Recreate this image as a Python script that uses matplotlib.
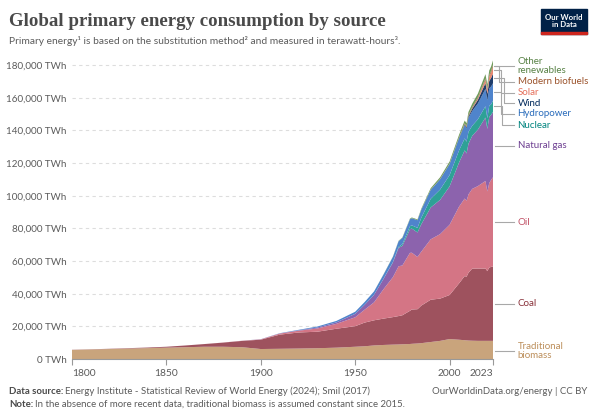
import numpy as np
import matplotlib
matplotlib.use("Agg")
from matplotlib import pyplot as plt
from matplotlib.patches import Rectangle

years = [1800, 1810, 1820, 1830, 1840, 1850, 1860, 1870, 1880, 1890,
         1900, 1910, 1920, 1930, 1940, 1950, 1955, 1960, 1965, 1970,
         1973, 1975, 1979, 1980, 1983, 1985, 1990, 1995, 2000, 2005,
         2008, 2009, 2010, 2012, 2015, 2019, 2020, 2021, 2022, 2023]

biomass = [5556, 5833, 6111, 6389, 6667, 6944, 7222, 7500, 7500, 7222,
           6111, 6250, 6400, 6600, 6944, 7500, 7800, 8300, 8600, 8800,
           8900, 9000, 9200, 9300, 9500, 9700, 10400, 11100, 12200, 11800,
           11500, 11400, 11300, 11200, 11111, 11111, 11111, 11111, 11111, 11111]
coal = [97, 128, 153, 264, 356, 569, 1061, 1642, 2542, 3856,
        5728, 8656, 9833, 10125, 11586, 12603, 14500, 15400, 16140, 16860,
        17400, 17800, 20300, 21000, 21000, 23000, 25900, 25900, 27000, 34500,
        39300, 39000, 41500, 44200, 44300, 44300, 42700, 44900, 45300, 45600]
oil = [0, 0, 0, 0, 0, 0, 0, 6, 33, 85,
       181, 636, 1097, 1972, 2994, 5444, 7900, 11000, 18000, 24500,
       30500, 30500, 35500, 34800, 32000, 33000, 37000, 39500, 43000, 47000,
       47500, 46500, 48000, 48800, 50500, 53600, 48800, 51700, 53300, 54600]
gas = [0, 0, 0, 0, 0, 0, 0, 0, 0, 30,
       64, 142, 233, 603, 875, 2092, 3000, 4600, 6300, 9000,
       11300, 12000, 14500, 14800, 15000, 16800, 19500, 21000, 23500, 27000,
       29500, 29000, 31000, 32500, 34600, 38900, 38300, 40500, 39800, 40100]
nuclear = [0, 0, 0, 0, 0, 0, 0, 0, 0, 0,
           0, 0, 0, 0, 0, 0, 0, 20, 70, 230,
           580, 1050, 1800, 1980, 2800, 4000, 5300, 6300, 6900, 7400,
           7300, 7200, 7300, 6200, 6300, 6900, 6600, 6800, 6500, 6800]
hydro = [0, 0, 0, 0, 0, 0, 0, 0, 0, 0,
         50, 100, 300, 600, 900, 1300, 1700, 2100, 2600, 3200,
         3500, 3800, 4300, 4400, 4700, 4900, 5500, 6300, 6800, 7500,
         8100, 8100, 8600, 9000, 9700, 10600, 10900, 10700, 10900, 10700]
wind = [0, 0, 0, 0, 0, 0, 0, 0, 0, 0,
        0, 0, 0, 0, 0, 0, 0, 0, 0, 0,
        0, 0, 0, 0, 0, 5, 10, 20, 80, 270,
        560, 720, 900, 1400, 2200, 3600, 4000, 4600, 5200, 5900]
solar = [0, 0, 0, 0, 0, 0, 0, 0, 0, 0,
         0, 0, 0, 0, 0, 0, 0, 0, 0, 0,
         0, 0, 0, 0, 0, 0, 2, 3, 5, 10,
         30, 50, 90, 260, 660, 1800, 2100, 2600, 3200, 4000]
biofuels = [0, 0, 0, 0, 0, 0, 0, 0, 0, 0,
            0, 0, 0, 0, 0, 0, 0, 0, 0, 0,
            0, 0, 0, 0, 0, 0, 100, 120, 130, 260,
            570, 620, 690, 720, 880, 1070, 980, 1070, 1160, 1300]
other = [0, 0, 0, 0, 0, 0, 0, 0, 0, 0,
         0, 0, 0, 0, 0, 0, 0, 0, 150, 200,
         250, 300, 380, 400, 500, 600, 900, 1100, 1300, 1500,
         1700, 1800, 1900, 2100, 2300, 2600, 2650, 2700, 2750, 2800]

names = ["Traditional\nbiomass", "Coal", "Oil", "Natural gas", "Nuclear",
         "Hydropower", "Wind", "Solar", "Modern biofuels", "Other\nrenewables"]
fills = ["#C9A47C", "#9E525E", "#D47585", "#8C63AD", "#2EA196",
         "#4F84CC", "#1F3E6C", "#E8866E", "#A66A48", "#6F9A5A"]
text_colors = ["#BC8E5A", "#883039", "#C15065", "#6D3E91", "#00847E",
               "#286BBB", "#00295B", "#E56E5A", "#9A5129", "#578145"]
label_y = [4900, 33700, 83900, 130500, 143300, 150100, 156800, 163000,
           169700, 179200]

series = [biomass, coal, oil, gas, nuclear, hydro, wind, solar, biofuels, other]

plt.rcParams['font.family'] = ['Lato', 'DejaVu Sans']

fig = plt.figure(figsize=(5.96, 4.19), dpi=100)
ax = fig.add_axes([72 / 596, 60 / 419, 421 / 596, (419 - 60 - 48.8) / 419])

ax.stackplot(years, *series, colors=fills, linewidth=0)

ax.set_xlim(1800, 2023)
ax.set_ylim(0, 190000)
yt = np.arange(0, 200000, 20000)
ax.set_yticks(yt)
ax.set_yticklabels([f"{v:,} TWh" for v in yt], color="#5b5b5b", fontsize=7.1)
ax.yaxis.grid(True, linestyle=(0, (3, 3)), color="#dddddd", linewidth=0.8)
ax.set_axisbelow(True)
ax.tick_params(axis="y", length=0, pad=4)

xt = [1800, 1850, 1900, 1950, 2000, 2023]
ax.set_xticks(xt)
ax.set_xticklabels([str(v) for v in xt], color="#5b5b5b", fontsize=7.4)
labs = ax.get_xticklabels()
labs[0].set_horizontalalignment("left")
labs[-1].set_horizontalalignment("right")
ax.tick_params(axis="x", length=4, color="#999999", pad=3)

for s in ["top", "right", "left"]:
    ax.spines[s].set_visible(False)
ax.spines["bottom"].set_color("#999999")

# labels at right with connectors
cum = np.cumsum([s[-1] for s in series])
mids = cum - np.array([s[-1] for s in series]) / 2
bends = [2025, 2025, 2025, 2025, 2028, 2027.5, 2029, 2027, 2026, 2025]
for i, name in enumerate(names):
    ys, yl = mids[i], label_y[i]
    if abs(ys - yl) < 3000:
        ax.plot([2024, 2034], [yl, yl], color="#a8a8a8", lw=0.8, clip_on=False)
    else:
        bx = bends[i]
        ax.plot([2023.6, bx, bx, 2034], [ys, ys, yl, yl], color="#a8a8a8",
                lw=0.8, clip_on=False)
    ax.text(2036, yl, name, color=text_colors[i], fontsize=7.0, va="center",
            ha="left", linespacing=1.0, clip_on=False)

# title and subtitle
fig.text(9 / 596, 1 - 21 / 419, "Global primary energy consumption by source",
         fontsize=13.6, fontfamily="Liberation Serif", fontweight="bold",
         color="#4a4a4a", va="center", ha="left")
fig.text(9 / 596, 1 - 41 / 419,
         "Primary energy¹ is based on the substitution method² and measured in terawatt-hours³.",
         fontsize=7.4, color="#5b5b5b", va="center", ha="left")

# logo
fig.patches.append(Rectangle((541 / 596, 1 - 34 / 419), 46 / 596, 25 / 419,
                             transform=fig.transFigure, color="#002147"))
fig.patches.append(Rectangle((541 / 596, 1 - 34 / 419), 46 / 596, 2 / 419,
                             transform=fig.transFigure, color="#CE261E"))
fig.text(564 / 596, 1 - 21 / 419, "Our World\nin Data", color="white",
         fontsize=5.6, fontweight="bold", ha="center", va="center",
         linespacing=1.0)

# footer: bold lead-in followed by regular text
fs = 6.9
renderer = fig.canvas.get_renderer()
for lead, rest, ypix in [("Data source:", " Energy Institute - Statistical Review of World Energy (2024); Smil (2017)", 391),
                         ("Note:", " In the absence of more recent data, traditional biomass is assumed constant since 2015.", 404)]:
    t = fig.text(9 / 596, 1 - ypix / 419, lead, fontsize=fs, color="#4a4a4a",
                 fontweight="bold", va="center")
    bb = t.get_window_extent(renderer=renderer)
    fig.text(bb.x1 / 596 + 2 / 596, 1 - ypix / 419, rest.strip(), fontsize=fs,
             color="#5b5b5b", va="center")
fig.text(587 / 596, 1 - 391 / 419, "OurWorldinData.org/energy | CC BY",
         fontsize=fs, color="#5b5b5b", va="center", ha="right")

fig.savefig("out.png", dpi=100)
